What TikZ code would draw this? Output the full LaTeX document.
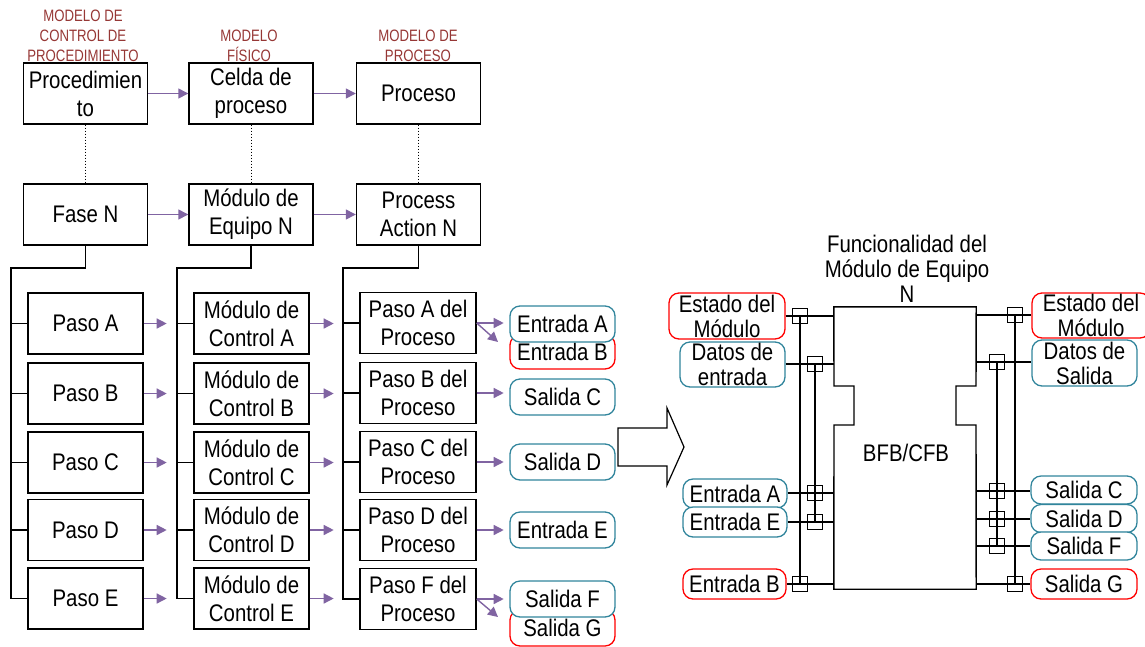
\documentclass[tikz,border=0pt]{standalone}
\usepackage{fontspec}
\setmainfont{Liberation Sans}
\newfontfamily\mainf[FakeStretch=0.85]{Liberation Sans}
\newfontfamily\hdrf[FakeStretch=0.8]{Liberation Sans}
\usetikzlibrary{arrows.meta}
\definecolor{purp}{RGB}{128,100,162}
\definecolor{tealb}{RGB}{49,133,156}
\definecolor{hdrc}{RGB}{150,55,53}
\begin{document}
\begin{tikzpicture}[x=1pt,y=-1pt,
  txt/.style={inner sep=0pt, align=center, font={\mainf\fontsize{24}{28}\selectfont}},
  bigbox/.style={txt, draw, line width=1.4pt, minimum width=124pt, minimum height=61pt},
  smallbox/.style={txt, draw, line width=1.4pt, minimum width=115pt, minimum height=61pt},
  outbox/.style={txt, draw=tealb, fill=white, line width=1.3pt, rounded corners=10pt, minimum width=105pt, minimum height=36pt},
  redbox/.style={outbox, draw=red},
  lbl/.style={txt, font={\mainf\fontsize{24}{25}\selectfont}, fill=white, line width=1.3pt, rounded corners=10pt},
  hdr/.style={inner sep=0pt, align=center, text=hdrc, font={\hdrf\fontsize{16.5}{20}\selectfont}},
  parrow/.style={draw=purp, line width=1.4pt, -{Triangle[length=10pt,width=10pt]}},
  tree/.style={draw, line width=1.4pt},
  dots/.style={draw, line width=1pt, dotted},
  sq/.style={draw, line width=1.4pt, minimum size=15pt, inner sep=0pt},
  bus/.style={draw, line width=1.4pt}]
\useasboundingbox (0,0) rectangle (1145,646);

% headers
\node[hdr] (h1) at (83,36) {MODELO DE\\CONTROL DE\\PROCEDIMIENTO};
\node[hdr] (h2) at (249,46) {MODELO\\FÍSICO};
\node[hdr] (h3) at (418,46) {MODELO DE\\PROCESO};

% top rows
\node[bigbox] (proc) at (85.5,93.5) {Procedimien\\to};
\node[bigbox] (celda) at (251,93.5) {Celda de\\proceso};
\node[bigbox] (proceso) at (418.5,93.5) {Proceso};
\node[bigbox] (fase) at (85.5,214.5) {Fase N};
\node[bigbox] (equipo) at (251,214.5) {Módulo de\\Equipo N};
\node[bigbox] (action) at (418.5,214.5) {Process\\Action N};

\draw[parrow] (proc.east) -- (celda.west);
\draw[parrow] (celda.east) -- (proceso.west);
\draw[parrow] (fase.east) -- (equipo.west);
\draw[parrow] (equipo.east) -- (action.west);
\draw[dots] (proc.south) -- (fase.north);
\draw[dots] (celda.south) -- (equipo.north);
\draw[dots] (proceso.south) -- (action.north);

% column 1
\node[smallbox] (pA) at (85.5,323.5) {Paso A};
\node[smallbox] (pB) at (85.5,393.5) {Paso B};
\node[smallbox] (pC) at (85.5,462.5) {Paso C};
\node[smallbox] (pD) at (85.5,530) {Paso D};
\node[smallbox] (pE) at (85.5,598.5) {Paso E};
% column 2
\node[smallbox] (mA) at (251.5,323.5) {Módulo de\\Control A};
\node[smallbox] (mB) at (251.5,393.5) {Módulo de\\Control B};
\node[smallbox] (mC) at (251.5,462.5) {Módulo de\\Control C};
\node[smallbox] (mD) at (251.5,530) {Módulo de\\Control D};
\node[smallbox] (mE) at (251.5,598.5) {Módulo de\\Control E};
% column 3
\node[smallbox, minimum width=116pt] (qA) at (418,323) {Paso A del\\Proceso};
\node[smallbox, minimum width=116pt] (qB) at (418,393) {Paso B del\\Proceso};
\node[smallbox, minimum width=116pt] (qC) at (418,462) {Paso C del\\Proceso};
\node[smallbox, minimum width=116pt] (qD) at (418,530) {Paso D del\\Proceso};
\node[smallbox, minimum width=116pt] (qF) at (418,599) {Paso F del\\Proceso};

% trees
\coordinate (t1) at (11,268);
\coordinate (t2) at (177,268);
\coordinate (t3) at (343,268);
\draw[tree] (fase.south) |- (t1) |- (pE.west);
\draw[tree] (equipo.south) |- (t2) |- (mE.west);
\draw[tree] (action.south) |- (t3) |- (qF.west);
\foreach \n in {pA,pB,pC,pD} \draw[tree] (t1 |- \n.west) -- (\n.west);
\foreach \n in {mA,mB,mC,mD} \draw[tree] (t2 |- \n.west) -- (\n.west);
\foreach \n in {qA,qB,qC,qD} \draw[tree] (t3 |- \n.west) -- (\n.west);

\foreach \n in {pA,pB,pC,pD,pE} \draw[parrow] (\n.east) -- ++(23,0);
\foreach \n in {mA,mB,mC,mD,mE} \draw[parrow] (\n.east) -- ++(24,0);

% outputs
\node[redbox, minimum height=34pt] (inB) at (562.5,352) {Entrada B};
\node[outbox] (inA) at (562.5,324) {Entrada A};
\node[outbox] (outC) at (562.5,397) {Salida C};
\node[outbox] (outD) at (562.5,462) {Salida D};
\node[outbox] (inE) at (562.5,530) {Entrada E};
\node[redbox] (outG) at (562.5,628) {Salida G};
\node[outbox] (outF) at (562.5,599) {Salida F};

\coordinate (dAB) at (498,342);
\coordinate (dFG) at (498,617);
\draw[parrow] (qA.east) -- ++(27,0);
\draw[parrow] (qA.east) -- (dAB);
\draw[parrow] (qB.east) -- ++(27,0);
\draw[parrow] (qC.east) -- ++(27,0);
\draw[parrow] (qD.east) -- ++(27,0);
\draw[parrow] (qF.east) -- ++(27,0);
\draw[parrow] (qF.east) -- (dFG);

% big arrow
\draw[line width=1.2pt] (618,428) -- (667,428) -- (667,408) -- (684,447) -- (667,485) -- (667,466) -- (618,466) -- cycle;

% right part
\node[txt, font={\mainf\fontsize{24}{25}\selectfont}] (title) at (907,269) {Funcionalidad del\\Módulo de Equipo\\N};
\node[inner sep=0pt, minimum width=142pt, minimum height=282pt] (blk) at (905,448) {};
\draw[line width=1.4pt] (blk.north west) -- (blk.north east) -- (976,386) -- (956,386) -- (956,425) -- (976,425) -- (blk.south east) -- (blk.south west) -- (834,425) -- (854,425) -- (854,386) -- (834,386) -- cycle;
\node[txt] (bfb) at (906,453) {BFB/CFB};

% left labels
\node[lbl, draw=red, minimum width=116pt, minimum height=46pt] (lEst) at (727,316) {Estado del\\Módulo};
\node[lbl, draw=tealb, minimum width=105pt, minimum height=45pt] (lDat) at (732.5,364.5) {Datos de\\entrada};
\node[lbl, draw=tealb, minimum width=104pt, minimum height=29pt] (lInA) at (735,493.5) {Entrada A};
\node[lbl, draw=tealb, minimum width=104pt, minimum height=30pt] (lInE) at (735,522) {Entrada E};
\node[lbl, draw=red, minimum width=103pt, minimum height=30pt] (lInB) at (734.5,584) {Entrada B};

% right labels
\node[lbl, draw=red, minimum width=118pt, minimum height=45pt] (rEst) at (1091,315.5) {Estado del\\Módulo};
\node[lbl, draw=tealb, minimum width=105pt, minimum height=46pt] (rDat) at (1084.5,363) {Datos de\\Salida};
\node[lbl, draw=tealb, minimum width=106pt, minimum height=28pt] (rC) at (1084,490) {Salida C};
\node[lbl, draw=tealb, minimum width=106pt, minimum height=28pt] (rD) at (1084,518.5) {Salida D};
\node[lbl, draw=tealb, minimum width=106pt, minimum height=28pt] (rF) at (1084,546) {Salida F};
\node[lbl, draw=red, minimum width=106pt, minimum height=30pt] (rG) at (1084,584) {Salida G};

% left squares and wiring
\node[sq] (s1) at (800,316) {};
\node[sq] (s2) at (815,364) {};
\node[sq] (s3) at (815,493) {};
\node[sq] (s4) at (815,522) {};
\node[sq] (s5) at (800,584) {};
\draw[bus] (s1.center) -- (s5.center);
\draw[bus] (s2.center) -- (s4.center);
\foreach \l/\s in {lEst/s1,lDat/s2,lInA/s3,lInE/s4,lInB/s5}
  \draw[bus] (\l.east |- \s) -- (\s -| blk.west);

% right squares and wiring
\node[sq] (r1) at (1015,315) {};
\node[sq] (r2) at (997,362) {};
\node[sq] (r3) at (997,491) {};
\node[sq] (r4) at (997,519) {};
\node[sq] (r5) at (997,546) {};
\node[sq] (r6) at (1015,584) {};
\draw[bus] (r1.center) -- (r6.center);
\draw[bus] (r2.center) -- (r5.center);
\foreach \l/\s in {rEst/r1,rDat/r2,rC/r3,rD/r4,rF/r5,rG/r6}
  \draw[bus] (\s -| blk.east) -- (\l.west |- \s);
\end{tikzpicture}
\end{document}
